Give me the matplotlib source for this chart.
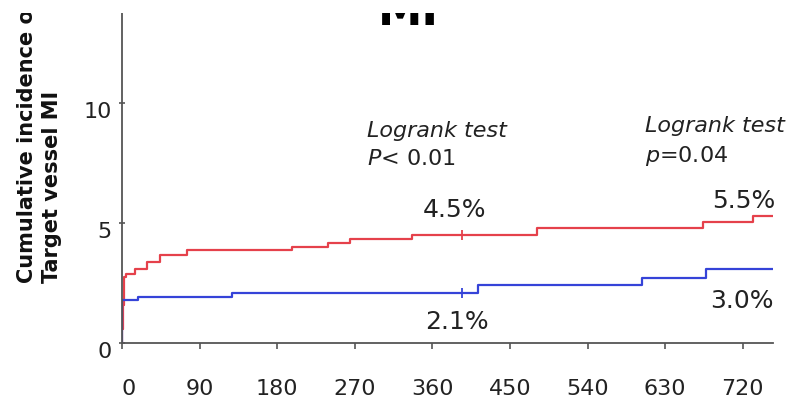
import matplotlib
matplotlib.use("Agg")
import matplotlib.pyplot as plt
from matplotlib.patches import Rectangle
from matplotlib.transforms import ScaledTranslation

plt.rcParams['font.family'] = ['DejaVu Sans']
plt.rcParams['mathtext.fontset'] = 'dejavusans'

# ---- data ----
red_days = [0, 0.3, 1, 2, 5, 15, 29, 44, 75, 197, 239, 264, 336, 481, 674, 732, 755]
red_vals = [0, 0.6, 1.6, 2.76, 2.87, 3.1, 3.39, 3.67, 3.88, 4.01, 4.18, 4.32, 4.5, 4.78, 5.05, 5.29, 5.29]
blue_days = [0, 0.3, 19, 127, 413, 603, 677, 755]
blue_vals = [0, 1.79, 1.9, 2.07, 2.42, 2.7, 3.07, 3.07]
censor_day = 394
censor_red = 4.5
censor_blue = 2.07
x_ticks = [0, 90, 180, 270, 360, 450, 540, 630, 720]
y_ticks = [0, 5, 10]
W, H = 808, 404

fig = plt.figure(figsize=(W / 100, H / 100), dpi=100)
ax = fig.add_axes([122 / W, 61 / H, (773 - 122) / W, (343 - 13) / H])

red_c = '#e5414b'
blue_c = '#3543d8'
ax.plot(red_days, red_vals, drawstyle='steps-post', color=red_c, lw=1.6)
ax.plot(blue_days, blue_vals, drawstyle='steps-post', color=blue_c, lw=1.6)
ax.plot([censor_day], [censor_red], marker='|', color=red_c, ms=7, mew=1.3)
ax.plot([censor_day], [censor_blue], marker='|', color=blue_c, ms=7, mew=1.3)

ax.set_xlim(0, 755)
ax.set_ylim(0, 13.75)
ax.set_xticks(x_ticks)
ax.set_xticklabels([str(t) for t in x_ticks])
ax.set_yticks(y_ticks)
ax.set_yticklabels([str(t) for t in y_ticks])
for s in ['top', 'right']:
    ax.spines[s].set_visible(False)
for s in ['left', 'bottom']:
    ax.spines[s].set_color('#555555')
    ax.spines[s].set_linewidth(1.3)
ax.tick_params(axis='x', direction='out', length=4, width=1.2, color='#555555',
               labelsize=16, labelcolor='#222222', pad=22)
ax.tick_params(axis='y', direction='inout', length=5, width=1.2, color='#555555',
               labelsize=16, labelcolor='#222222', pad=5)
off = ScaledTranslation(0, -7 / 100, fig.dpi_scale_trans)
for lab in ax.get_yticklabels():
    lab.set_transform(lab.get_transform() + off)
off0 = ScaledTranslation(7 / 100, 0, fig.dpi_scale_trans)
lab0 = ax.get_xticklabels()[0]
lab0.set_transform(lab0.get_transform() + off0)

def ft(x, y, s, **kw):
    fig.text(x / W, 1 - y / H, s, **kw)

# annotations
ft(367, 131, 'Logrank test', style='italic', fontsize=16, color='#222222', va='center')
ft(367, 159, r'$\mathit{P}$< 0.01', fontsize=16, color='#222222', va='center')
ft(645, 126, 'Logrank test', style='italic', fontsize=16, color='#222222', va='center')
ft(645, 156, r'$\mathit{p}$=0.04', fontsize=16, color='#222222', va='center')
ft(455, 210, '4.5%', fontsize=18, color='#222222', va='center', ha='center')
ft(457, 322, '2.1%', fontsize=18, color='#222222', va='center', ha='center')
ft(775, 201, '5.5%', fontsize=18, color='#222222', va='center', ha='right')
ft(774, 301, '3.0%', fontsize=18, color='#222222', va='center', ha='right')

# title (top cut off)
ft(378, 25, 'MI', fontsize=32, weight='bold', color='black', va='baseline', ha='left')

# y label (two lines, bottom aligned)
ft(27, 283, 'Cumulative incidence of', rotation=90, fontsize=15, weight='bold',
   color='#111111', ha='center', va='bottom')
ft(52, 283, 'Target vessel MI', rotation=90, fontsize=15, weight='bold',
   color='#111111', ha='center', va='bottom')

# white band covering the top edge
fig.add_artist(Rectangle((0, 1 - 13 / H), 1, 13 / H, transform=fig.transFigure,
                         facecolor='white', edgecolor='none', zorder=20))

fig.savefig('out.png', dpi=100, facecolor='white')
